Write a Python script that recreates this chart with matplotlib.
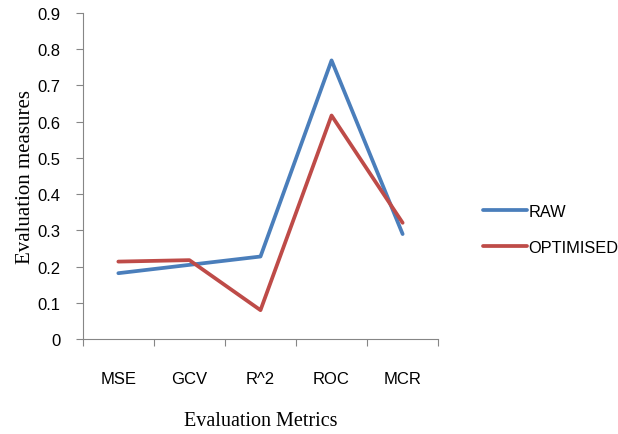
import numpy as np
import matplotlib.pyplot as plt

# values
metrics = ['MSE', 'GCV', 'R^2', 'ROC', 'MCR']
raw = [0.182, 0.205, 0.228, 0.769, 0.290]
optimised = [0.214, 0.218, 0.080, 0.617, 0.321]
yticks = [0, 0.1, 0.2, 0.3, 0.4, 0.5, 0.6, 0.7, 0.8, 0.9]

fig = plt.figure(figsize=(6.18, 4.35), dpi=100)
ax = fig.add_axes([0.134, 0.218, 0.575, 0.750])

x = np.arange(len(metrics))
ax.plot(x, raw, color='#4A7EBB', lw=2.7, label='RAW', solid_capstyle='round')
ax.plot(x, optimised, color='#BE4B48', lw=2.7, label='OPTIMISED', solid_capstyle='round')

ax.set_xlim(-0.5, len(metrics) - 0.5)
ax.set_ylim(0, 0.9)
ax.set_yticks(yticks)
ax.set_yticklabels(['0' if v == 0 else f'{v:.1f}' for v in yticks])

# category boundaries as major ticks, labels on minor ticks
ax.set_xticks(np.arange(-0.5, len(metrics)), labels=[])
ax.set_xticks(x, labels=metrics, minor=True)
ax.tick_params(axis='x', which='major', length=5, color='#868686', direction='out')
ax.tick_params(axis='x', which='minor', length=0, pad=23, labelsize=12)
ax.tick_params(axis='y', length=5, color='#868686', direction='out', pad=11, labelsize=12)
for lab in ax.get_xticklabels(minor=True) + ax.get_yticklabels():
    lab.set_fontfamily('Liberation Sans')

for s in ['top', 'right']:
    ax.spines[s].set_visible(False)
for s in ['left', 'bottom']:
    ax.spines[s].set_color('#868686')

ax.set_ylabel('Evaluation measures', family='Liberation Serif', fontsize=15, labelpad=2)
ax.set_xlabel('Evaluation Metrics', family='Liberation Serif', fontsize=14.5, labelpad=18)

leg = fig.legend(loc='center left', bbox_to_anchor=(0.757, 0.470), frameon=False,
                 prop={'family': 'Liberation Sans', 'size': 11.8},
                 handlelength=2.7, handletextpad=0.1, labelspacing=1.3)

fig.savefig('out.png', dpi=100)
